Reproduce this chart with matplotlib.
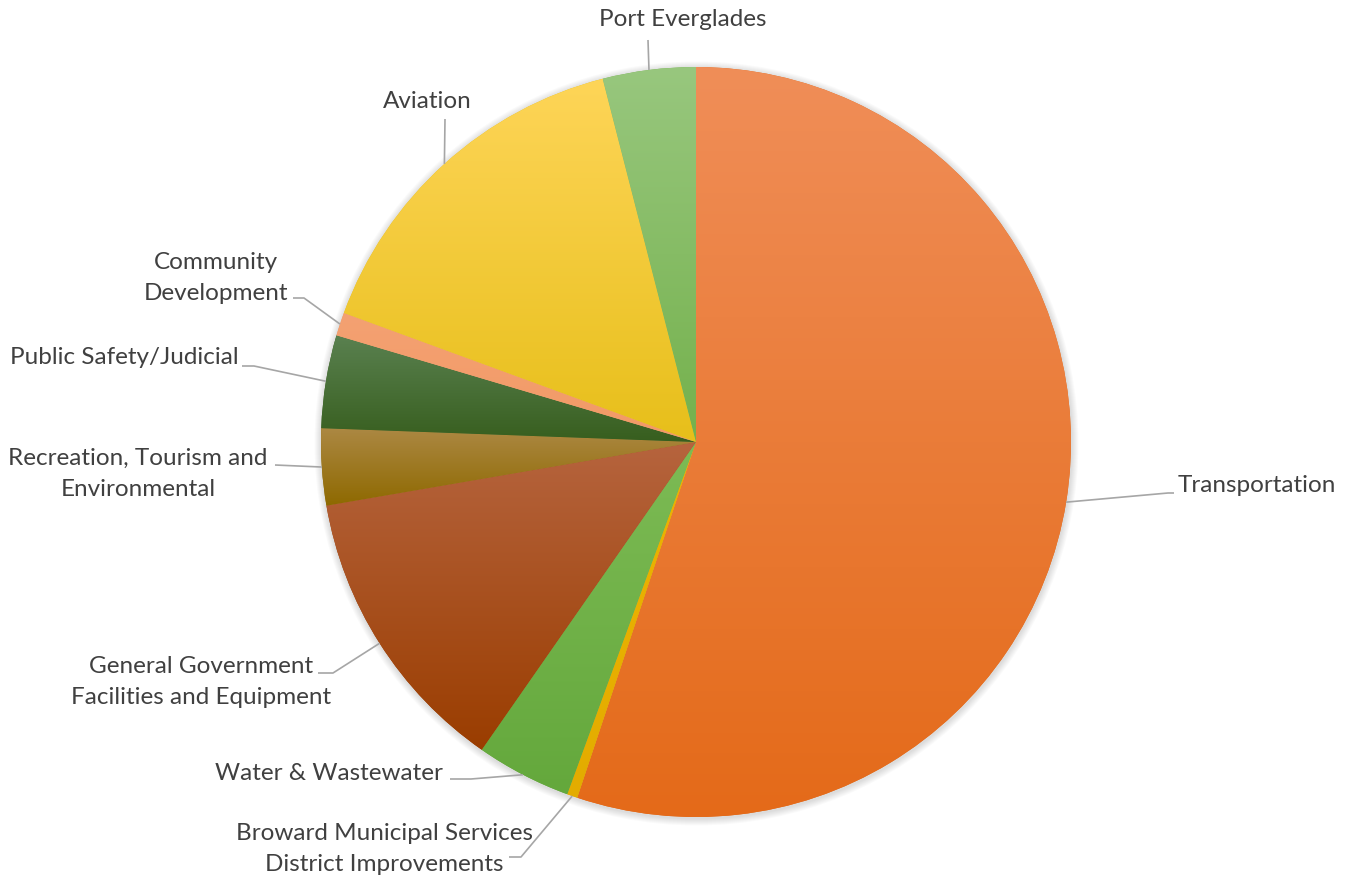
import numpy as np
import matplotlib
matplotlib.use("Agg")
import matplotlib.pyplot as plt
from matplotlib.colors import to_rgb
from matplotlib.patches import Circle

# ---- data (percent of total, clockwise from 12 o'clock) ----
categories = [
    "Transportation",
    "Broward Municipal Services\nDistrict Improvements",
    "Water & Wastewater",
    "General Government\nFacilities and Equipment",
    "Recreation, Tourism and\nEnvironmental",
    "Public Safety/Judicial",
    "Community\nDevelopment",
    "Aviation",
    "Port Everglades",
]
values = [55.1, 0.45, 4.1, 12.6, 3.3, 4.0, 1.0, 15.4, 4.0]
top_colors = ["#F08E58", "#EDB400", "#7DBB55", "#B6643E", "#AC8843", "#5A8150", "#F4A172", "#FED558", "#98C77E"]
bot_colors = ["#E46A19", "#E3AC00", "#64A83C", "#9A3D00", "#8E6900", "#375E1E", "#F29A66", "#E7BF1A", "#74B14C"]

W, H = 1350, 881
fig = plt.figure(figsize=(W / 100, H / 100), dpi=100)
ax = fig.add_axes([0, 0, 1, 1])

def Y(y):
    return H - y

cx, cy, R = 696, Y(442), 375

# soft shadow
for k in range(7, 0, -1):
    ax.add_patch(Circle((cx + 0.5, cy - 1.5), R + k, color="black", alpha=0.018, lw=0, zorder=0))

wedges, _ = ax.pie(values, startangle=90, counterclock=False, center=(cx, cy), radius=R,
                   colors=bot_colors, wedgeprops=dict(linewidth=0))

for w, ct, cb in zip(wedges, top_colors, bot_colors):
    bb = w.get_path().get_extents()
    grad = np.linspace(0, 1, 256)[:, None, None]
    a, b = np.array(to_rgb(ct)), np.array(to_rgb(cb))
    img = a[None, None, :] * (1 - grad) + b[None, None, :] * grad
    im = ax.imshow(img, extent=[bb.x0, bb.x1, bb.y0, bb.y1], origin="upper",
                   aspect="auto", interpolation="bilinear", zorder=2)
    im.set_clip_path(w)
    w.set_zorder(1)

ax.set_xlim(0, W)
ax.set_ylim(0, H)
ax.set_aspect("auto")
ax.axis("off")

def rim(i):
    w = wedges[i]
    th = np.deg2rad((w.theta1 + w.theta2) / 2)
    return cx + R * np.cos(th), cy + R * np.sin(th)

# label layout: (text x, text y, ha, elbow points (pixel, from top))
layout = [
    (1178, 486, "left", [(1168, 493), (1174, 493)]),
    (384, 849, "center", [(521, 857), (509, 857)]),
    (443, 774, "right", [(471, 779), (450, 779)]),
    (201, 682, "center", [(333, 673), (318, 673)]),
    (138, 474, "center", [(275, 465)]),
    (10, 358, "left", [(254, 366), (242, 366)]),
    (216, 278, "center", [(304, 298), (293, 298)]),
    (427, 101, "center", [(445, 119)]),
    (683, 20, "center", [(648, 40)]),
]

lc = "#A6A6A6"
for i, (lab, (tx, ty, ha, pts)) in enumerate(zip(categories, layout)):
    ax.text(tx, Y(ty), lab, ha=ha, va="center", fontsize=17.5, color="#404040",
            family=["Lato", "DejaVu Sans"], linespacing=1.55, multialignment="center", zorder=5)
    rx, ry = rim(i)
    xs = [rx] + [p[0] for p in pts]
    ys = [ry] + [Y(p[1]) for p in pts]
    ax.plot(xs, ys, color=lc, lw=1.2, zorder=4, solid_capstyle="butt")

fig.savefig("out.png", dpi=100, facecolor="white")
